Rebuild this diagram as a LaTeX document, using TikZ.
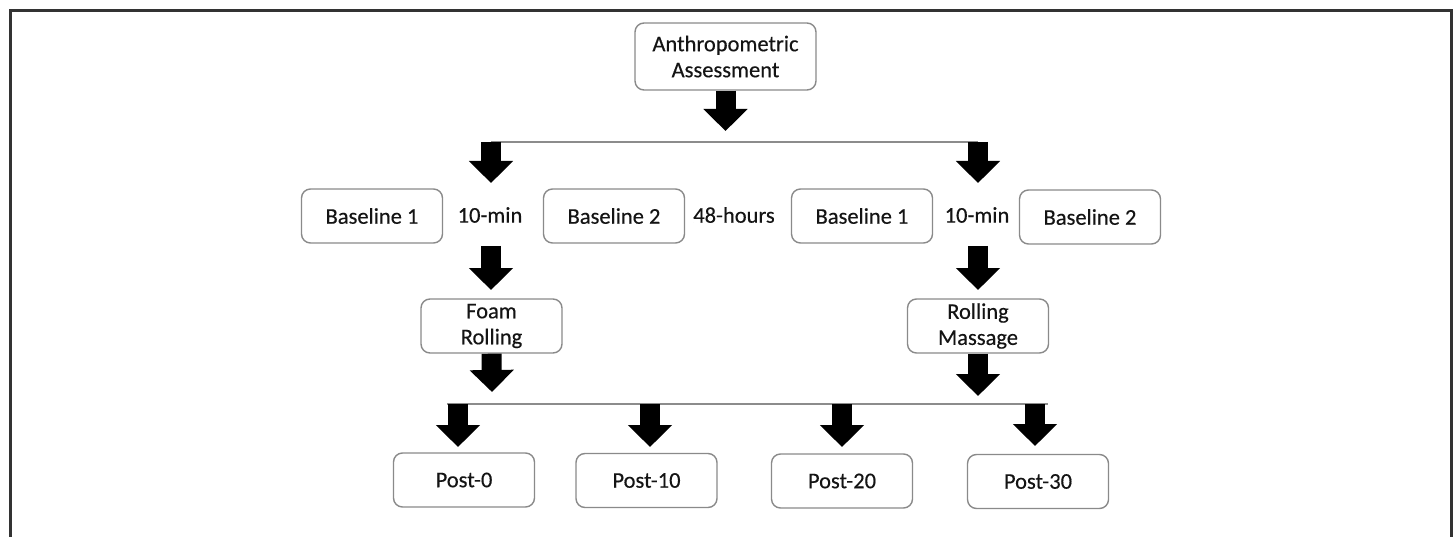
\documentclass[tikz,border=0pt]{standalone}
\usepackage{fontspec}
\setmainfont{Carlito}[FakeBold=0.35]
\usetikzlibrary{arrows.meta}
\definecolor{boxgray}{HTML}{8A8A8A}
\definecolor{linegray}{HTML}{8C8C8C}
\definecolor{framegray}{HTML}{333333}
\definecolor{txt}{HTML}{141414}
\tikzset{
  box/.style={draw=boxgray, line width=1.4pt, rounded corners=9pt, minimum width=141pt, minimum height=54pt, align=center, text=txt, fill=white, inner sep=2pt, font=\fontsize{22.5}{26}\selectfont},
  lbl/.style={text=txt, inner sep=1pt, font=\fontsize{22.5}{26}\selectfont},
  blockarrow/.style={draw=black, line width=20pt, line cap=butt, -{Triangle[length=22pt,width=43pt]}},
  hline/.style={draw=linegray, line width=1.6pt},
  frame/.style={draw=framegray, line width=3pt}
}
\begin{document}
\begin{tikzpicture}[x=1pt,y=-1pt]
\useasboundingbox (0,0) rectangle (1455,537);
\draw[frame] (10.5,537) -- (10.5,10.5) -- (1451.5,10.5) -- (1451.5,537);

\node[box, minimum width=181pt, minimum height=67pt] (anth) at (725.5,56.5) {Anthropometric\\Assessment};

\node[box] (b1l) at (372,216) {Baseline 1};
\node[lbl] (t10l) at (490,215) {10-min};
\node[box] (b2l) at (614,216) {Baseline 2};
\node[lbl] (t48) at (734,215) {48-hours};
\node[box] (b1r) at (862,216) {Baseline 1};
\node[lbl] (t10r) at (977,215) {10-min};
\node[box] (b2r) at (1090,217) {Baseline 2};

\node[box] (foam) at (491.5,326) {Foam\\Rolling};
\node[box] (rm) at (978,326) {Rolling\\Massage};

\node[box] (p0) at (464,480) {Post-0};
\node[box] (p10) at (646.5,480.5) {Post-10};
\node[box] (p20) at (842,481) {Post-20};
\node[box] (p30) at (1038,481.5) {Post-30};

% coordinates
\coordinate (anthtip) at (725.5,131);
\coordinate (sl) at (491,142);
\coordinate (sr) at (978,142);
\coordinate (sltip) at (491,183);
\coordinate (srtip) at (978,183);
\coordinate (ml) at (491,246);
\coordinate (mr) at (978,246);
\coordinate (mltip) at (491,290);
\coordinate (mrtip) at (978,290);
\coordinate (foamtip) at (492,392);
\coordinate (rmtip) at (978,396);
\coordinate (q0) at (458,404);
\coordinate (q1) at (650,404);
\coordinate (q2) at (842,404);
\coordinate (q3) at (1035,404);
\coordinate (q0tip) at (458,447);
\coordinate (q1tip) at (650,447);
\coordinate (q2tip) at (842,447);
\coordinate (q3tip) at (1035,446);

\draw[hline] (sl) -- (sr);
\draw[hline] ([xshift=-11pt]q0) -- ([xshift=13pt]q3);

\draw[blockarrow] (anth.south) -- (anthtip);
\draw[blockarrow] (sl) -- (sltip);
\draw[blockarrow] (sr) -- (srtip);
\draw[blockarrow] (ml) -- (mltip);
\draw[blockarrow] (mr) -- (mrtip);
\draw[blockarrow] (foam.south) -- (foamtip);
\draw[blockarrow] (rm.south) -- (rmtip);
\draw[blockarrow] (q0) -- (q0tip);
\draw[blockarrow] (q1) -- (q1tip);
\draw[blockarrow] (q2) -- (q2tip);
\draw[blockarrow] (q3) -- (q3tip);
\end{tikzpicture}
\end{document}
